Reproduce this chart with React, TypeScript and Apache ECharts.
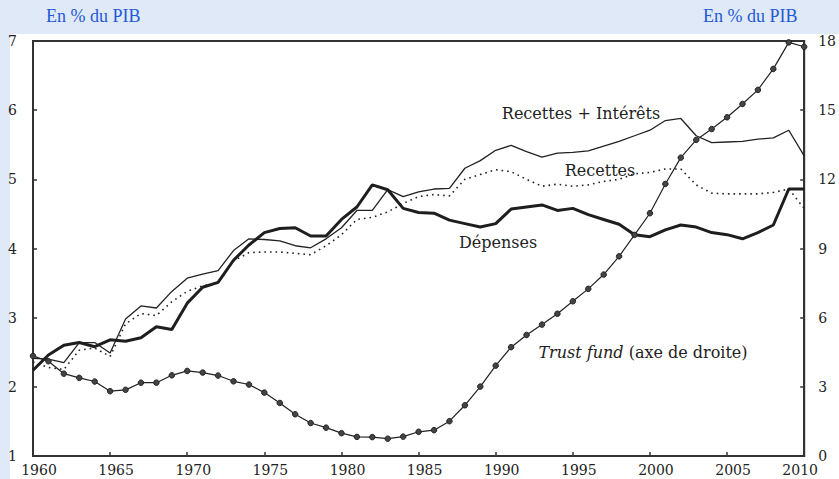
import React, { useEffect, useRef } from "react";
import * as echarts from "echarts";

const years: number[] = [];
for (let y = 1960; y <= 2010; y++) years.push(y);

const depenses = [
  2.24, 2.46, 2.6, 2.64, 2.58, 2.68, 2.66, 2.71, 2.87, 2.83,
  3.21, 3.44, 3.51, 3.83, 4.05, 4.23, 4.29, 4.3, 4.18, 4.18,
  4.42, 4.6, 4.92, 4.85, 4.58, 4.52, 4.51, 4.41, 4.36, 4.31,
  4.36, 4.57, 4.6, 4.63, 4.55, 4.58, 4.49, 4.42, 4.35, 4.2,
  4.17, 4.27, 4.34, 4.31, 4.23, 4.2, 4.14, 4.23, 4.34, 4.86,
  4.86,
];

const recettesInterets = [
  2.41, 2.4, 2.35, 2.64, 2.64, 2.49, 2.98, 3.17, 3.14, 3.38,
  3.57, 3.63, 3.68, 3.97, 4.14, 4.13, 4.11, 4.04, 4.01, 4.14,
  4.3, 4.55, 4.55, 4.85, 4.75, 4.82, 4.86, 4.87, 5.16, 5.27,
  5.42, 5.49, 5.4, 5.32, 5.38, 5.39, 5.41, 5.48, 5.55, 5.63,
  5.71, 5.85, 5.88, 5.63, 5.53, 5.54, 5.55, 5.58, 5.6, 5.71,
  5.34,
];

const recettes = [
  2.36, 2.28, 2.25, 2.53, 2.56, 2.44, 2.91, 3.06, 3.03, 3.23,
  3.38, 3.46, 3.5, 3.82, 3.94, 3.95, 3.95, 3.93, 3.91, 4.04,
  4.2, 4.42, 4.45, 4.53, 4.65, 4.75, 4.78, 4.76, 5.0, 5.07,
  5.14, 5.11, 5.0, 4.9, 4.93, 4.9, 4.92, 4.97, 5.0, 5.08,
  5.1, 5.15, 5.15, 4.92, 4.8, 4.79, 4.79, 4.79, 4.81, 4.86,
  4.58,
];

const trustFund = [
  4.34, 4.11, 3.57, 3.39, 3.23, 2.81, 2.87, 3.18, 3.18, 3.5,
  3.69, 3.62, 3.49, 3.24, 3.1, 2.75, 2.3, 1.81, 1.43, 1.23,
  0.99, 0.83, 0.82, 0.75, 0.84, 1.05, 1.12, 1.51, 2.2, 3.01,
  3.92, 4.72, 5.25, 5.7, 6.17, 6.71, 7.25, 7.87, 8.66, 9.59,
  10.53, 11.8, 12.94, 13.71, 14.18, 14.69, 15.27, 15.88, 16.79, 17.94,
  17.75,
];

const headerLabel = "En % du PIB";
const labelRI = "Recettes + Intérêts";
const labelR = "Recettes";
const labelD = "Dépenses";

const SERIF = "DejaVu Serif";
const INK = "#222";

const pairs = (vals: number[]) => years.map((y, i) => [y, vals[i]]);

const txt = (x: number, y: number, text: string, extra: any = {}) => ({
  type: "text",
  x,
  y,
  style: {
    text,
    fontFamily: SERIF,
    fontSize: 16,
    fill: INK,
    align: "center",
    verticalAlign: "middle",
    ...extra,
  },
});

export default function App() {
  const ref = useRef<HTMLDivElement>(null);
  useEffect(() => {
    if (!ref.current) return;
    const chart = echarts.init(ref.current, undefined, { renderer: "svg" });
    chart.setOption({
      animation: false,
      backgroundColor: "#dfe9f8",
      graphic: [
        {
          type: "rect",
          z: -10,
          shape: { x: 10, y: 34, width: 829, height: 445 },
          style: { fill: "#ffffff" },
        },
        txt(46, 16, headerLabel, {
          fontFamily: "Liberation Serif",
          fontSize: 18,
          fill: "#1f5ad6",
          align: "left",
        }),
        txt(703, 16, headerLabel, {
          fontFamily: "Liberation Serif",
          fontSize: 18,
          fill: "#1f5ad6",
          align: "left",
        }),
        txt(581, 113, labelRI),
        txt(600, 170, labelR),
        txt(498, 242, labelD),
        txt(643, 352, "{i|Trust fund}{n| (axe de droite)}", {
          rich: {
            i: { fontStyle: "italic", fontFamily: SERIF, fontSize: 16, fill: INK },
            n: { fontFamily: SERIF, fontSize: 16, fill: INK },
          },
        }),
      ],
      grid: {
        left: 33,
        right: 31,
        top: 41,
        bottom: 23,
        show: true,
        borderColor: "#333",
        borderWidth: 2,
        backgroundColor: "#ffffff",
      },
      xAxis: {
        type: "value",
        min: 1960,
        max: 2010,
        interval: 5,
        axisLine: { show: true, lineStyle: { color: "#333", width: 2 } },
        axisTick: { show: true, inside: true, length: 4, lineStyle: { color: "#333", width: 1.5 } },
        splitLine: { show: false },
        axisLabel: {
          margin: 7,
          color: INK,
          fontFamily: SERIF,
          fontSize: 14,
          formatter: (v: number) => (v === 2010 ? `{b|${v}}` : `{a|${v}}`),
          rich: {
            a: { padding: [0, 0, 0, 12], fontFamily: SERIF, fontSize: 14, color: INK },
            b: { padding: [0, 8, 3, 0], fontFamily: SERIF, fontSize: 14, color: INK },
          },
        },
      },
      yAxis: [
        {
          type: "value",
          position: "left",
          min: 1,
          max: 7,
          interval: 1,
          axisLine: { show: true, lineStyle: { color: "#333", width: 2 } },
          axisTick: { show: true, inside: true, length: 4, lineStyle: { color: "#333", width: 1.5 } },
          splitLine: { show: false },
          axisLabel: { margin: 16, color: INK, fontFamily: SERIF, fontSize: 14 },
        },
        {
          type: "value",
          position: "right",
          min: 0,
          max: 18,
          interval: 3,
          axisLine: { show: true, lineStyle: { color: "#333", width: 2 } },
          axisTick: { show: true, inside: true, length: 4, lineStyle: { color: "#333", width: 1.5 } },
          splitLine: { show: false },
          axisLabel: { margin: 14, color: INK, fontFamily: SERIF, fontSize: 14 },
        },
      ],
      series: [
        {
          name: labelRI,
          type: "line",
          yAxisIndex: 0,
          data: pairs(recettesInterets),
          symbol: "none",
          lineStyle: { color: INK, width: 1.3 },
        },
        {
          name: labelR,
          type: "line",
          yAxisIndex: 0,
          data: pairs(recettes),
          symbol: "none",
          lineStyle: { color: INK, width: 1.6, type: [1.6, 4] },
        },
        {
          name: labelD,
          type: "line",
          yAxisIndex: 0,
          data: pairs(depenses),
          symbol: "none",
          lineStyle: { color: "#1e1e1e", width: 3 },
        },
        {
          name: "Trust fund",
          type: "line",
          yAxisIndex: 1,
          data: pairs(trustFund),
          symbol: "circle",
          symbolSize: 5.5,
          itemStyle: { color: "#444", borderColor: "#222", borderWidth: 1 },
          lineStyle: { color: INK, width: 1.2 },
        },
      ],
    });
    return () => chart.dispose();
  }, []);
  return (
    <div
      ref={ref}
      style={{ position: "fixed", left: 0, top: 0, width: 839, height: 479 }}
    />
  );
}
